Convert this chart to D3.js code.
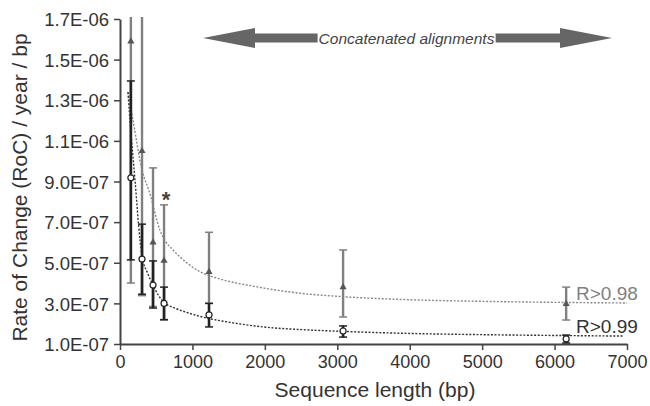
<!DOCTYPE html>
<html>
<head>
<meta charset="utf-8">
<script src="https://cdn.jsdelivr.net/npm/d3@7"></script>
<style>
  body { margin: 0; background: #fff; }
  text { font-family: "Liberation Sans", Arial, sans-serif; }
</style>
</head>
<body>
<div id="main"></div>
<script>
// sequence length (bp) of each alignment set
const lengths = [150, 304, 456, 608, 1229, 3080, 6160];

// gray series (triangles)
const grayMean = [1.59e-6, 1.05e-6, 6.0e-7, 5.1e-7, 4.55e-7, 3.8e-7, 2.97e-7];
const grayHigh = [2.0e-6, 2.0e-6, 9.67e-7, 7.85e-7, 6.5e-7, 5.63e-7, 3.8e-7];
const grayLow = [4.0e-7, 3.38e-7, 2.85e-7, 2.18e-7, 3.0e-7, 2.33e-7, 2.18e-7];

// dark series (open circles)
const darkMean = [9.18e-7, 5.18e-7, 3.9e-7, 3.0e-7, 2.43e-7, 1.64e-7, 1.25e-7];
const darkHigh = [1.395e-6, 6.9e-7, 5.09e-7, 3.8e-7, 3.0e-7, 1.89e-7, 1.44e-7];
const darkLow = [5.14e-7, 3.45e-7, 2.77e-7, 2.2e-7, 1.84e-7, 1.34e-7, 1.05e-7];

// fitted curves
const grayFitX = [110, 180, 304, 414, 552, 621, 732, 925, 1105, 1381, 1836, 2485, 3079, 4000, 5000, 6000, 7000];
const grayFitY = [1.34e-6, 1.2e-6, 9.57e-7, 8.4e-7, 6.6e-7, 6.1e-7, 5.63e-7, 4.99e-7, 4.56e-7, 4.2e-7, 3.85e-7, 3.5e-7, 3.33e-7, 3.18e-7, 3.1e-7, 3.05e-7, 3.02e-7];
const darkFitX = [110, 138, 207, 276, 304, 380, 456, 530, 607, 750, 925, 1105, 1600, 2030, 2500, 3080, 4000, 5000, 6000, 6950];
const darkFitY = [1.34e-6, 1.2e-6, 9.07e-7, 6.12e-7, 5.3e-7, 4.5e-7, 3.9e-7, 3.4e-7, 3.05e-7, 2.78e-7, 2.55e-7, 2.36e-7, 2.02e-7, 1.82e-7, 1.71e-7, 1.62e-7, 1.52e-7, 1.46e-7, 1.42e-7, 1.39e-7];

const xTicks = [0, 1000, 2000, 3000, 4000, 5000, 6000, 7000];
const yTicks = [1e-7, 3e-7, 5e-7, 7e-7, 9e-7, 1.1e-6, 1.3e-6, 1.5e-6, 1.7e-6];
const yTickLabels = ["1.0E-07", "3.0E-07", "5.0E-07", "7.0E-07", "9.0E-07", "1.1E-06", "1.3E-06", "1.5E-06", "1.7E-06"];

const fitLabels = ["R>0.98", "R>0.99"];
const arrowLabel = "Concatenated alignments";
const arrowFrom = 1146, arrowTo = 6793;

const config = {width: 650, height: 406, left: 120, right: 627, top: 19, bottom: 344};

const svg = d3.select("#main").append("svg")
  .attr("width", config.width).attr("height", config.height);

const x = d3.scaleLinear().domain([0, 7000]).range([config.left, config.right]);
const y = d3.scaleLinear().domain([1e-7, 1.7e-6]).range([config.bottom, config.top]);

svg.append("clipPath").attr("id", "plot")
  .append("rect").attr("x", config.left).attr("y", config.top - 2)
  .attr("width", config.right - config.left + 20).attr("height", config.bottom - config.top + 2);

// axes
const xAxis = d3.axisBottom(x).tickValues(xTicks).tickFormat(d3.format("d"))
  .tickSize(6).tickSizeOuter(0).tickPadding(5);
const yAxis = d3.axisLeft(y).tickValues(yTicks).tickFormat((d, i) => yTickLabels[i])
  .tickSize(6).tickSizeOuter(0).tickPadding(5);

const gx = svg.append("g").attr("transform", `translate(0,${config.bottom})`).call(xAxis);
const gy = svg.append("g").attr("transform", `translate(${config.left},0)`).call(yAxis);
[gx, gy].forEach(g => {
  g.select(".domain").attr("stroke", "#444").attr("stroke-width", 2);
  g.selectAll(".tick line").attr("stroke", "#444").attr("stroke-width", 1.5);
  g.selectAll(".tick text").attr("fill", "#333")
    .style("font-family", '"Liberation Sans", Arial, sans-serif');
});
gx.selectAll(".tick text").style("font-size", "18px");
gy.selectAll(".tick text").style("font-size", "18.5px").attr("dy", "0.36em");

svg.append("text")
  .attr("x", 375).attr("y", 397)
  .attr("text-anchor", "middle").attr("fill", "#333")
  .style("font-size", "21px")
  .text("Sequence length (bp)");

svg.append("text")
  .attr("transform", `translate(27,${(config.top + config.bottom) / 2 + 6}) rotate(-90)`)
  .attr("text-anchor", "middle").attr("fill", "#333")
  .style("font-size", "21px")
  .text("Rate of Change (RoC) / year / bp");

// arrow annotation
const ay = 38, head = 52, hh = 10, sh = 4.5;
const ax0 = x(arrowFrom), ax1 = x(arrowTo);
svg.append("path")
  .attr("fill", "#666")
  .attr("d", `M${ax0},${ay} L${ax0 + head},${ay - hh} L${ax0 + head},${ay - sh}
    L${ax1 - head},${ay - sh} L${ax1 - head},${ay - hh} L${ax1},${ay}
    L${ax1 - head},${ay + hh} L${ax1 - head},${ay + sh} L${ax0 + head},${ay + sh}
    L${ax0 + head},${ay + hh} Z`);
const lbl = svg.append("text")
  .attr("x", (ax0 + ax1) / 2 - 1).attr("y", ay + 5.5)
  .attr("text-anchor", "middle").attr("fill", "#444")
  .style("font-size", "15.5px").style("font-style", "italic")
  .text(arrowLabel);
const bb = lbl.node().getBBox();
svg.insert("rect", () => lbl.node())
  .attr("x", bb.x - 1).attr("y", ay - sh - 1)
  .attr("width", bb.width + 2).attr("height", 2 * sh + 2)
  .attr("fill", "#fff");

const plot = svg.append("g").attr("clip-path", "url(#plot)");

// fitted curves
const fitLine = d3.line().x(d => x(d[0])).y(d => y(d[1])).curve(d3.curveMonotoneX);
plot.append("path")
  .datum(grayFitX.map((v, i) => [v, grayFitY[i]]))
  .attr("d", fitLine)
  .attr("fill", "none").attr("stroke", "#888")
  .attr("stroke-width", 1.4).attr("stroke-dasharray", "2,1.6");
plot.append("path")
  .datum(darkFitX.map((v, i) => [v, darkFitY[i]]))
  .attr("d", fitLine)
  .attr("fill", "none").attr("stroke", "#333")
  .attr("stroke-width", 1.4).attr("stroke-dasharray", "2,1.6");

// error bars
function errorBars(highs, lows, color, w) {
  const g = plot.append("g").attr("stroke", color);
  lengths.forEach((len, i) => {
    const cx = x(len);
    g.append("line").attr("x1", cx).attr("x2", cx)
      .attr("y1", y(highs[i])).attr("y2", y(lows[i])).attr("stroke-width", w);
    [highs[i], lows[i]].forEach(v => {
      g.append("line").attr("x1", cx - 4).attr("x2", cx + 4)
        .attr("y1", y(v)).attr("y2", y(v)).attr("stroke-width", 1.5);
    });
  });
}
errorBars(grayHigh, grayLow, "#808080", 2.4);
errorBars(darkHigh, darkLow, "#222", 2.6);

// markers
plot.append("g").selectAll("path")
  .data(lengths)
  .join("path")
  .attr("transform", (d, i) => `translate(${x(d)},${y(grayMean[i])})`)
  .attr("d", d3.symbol(d3.symbolTriangle, 22))
  .attr("fill", "#555");
plot.append("g").selectAll("circle")
  .data(lengths)
  .join("circle")
  .attr("cx", d => x(d)).attr("cy", (d, i) => y(darkMean[i]))
  .attr("r", 3).attr("fill", "#fff").attr("stroke", "#222").attr("stroke-width", 1.2);

// fit labels
svg.append("text").attr("x", 576).attr("y", 300)
  .attr("fill", "#808080").style("font-size", "19px").text(fitLabels[0]);
svg.append("text").attr("x", 576).attr("y", 333)
  .attr("fill", "#333").style("font-size", "19px").text(fitLabels[1]);

// significance mark
svg.append("text").attr("x", x(lengths[3]) + 2).attr("y", y(grayHigh[3]) + 2)
  .attr("text-anchor", "middle").attr("fill", "#444")
  .style("font-size", "22px").style("font-weight", "bold")
  .text("*");
</script>
</body>
</html>
